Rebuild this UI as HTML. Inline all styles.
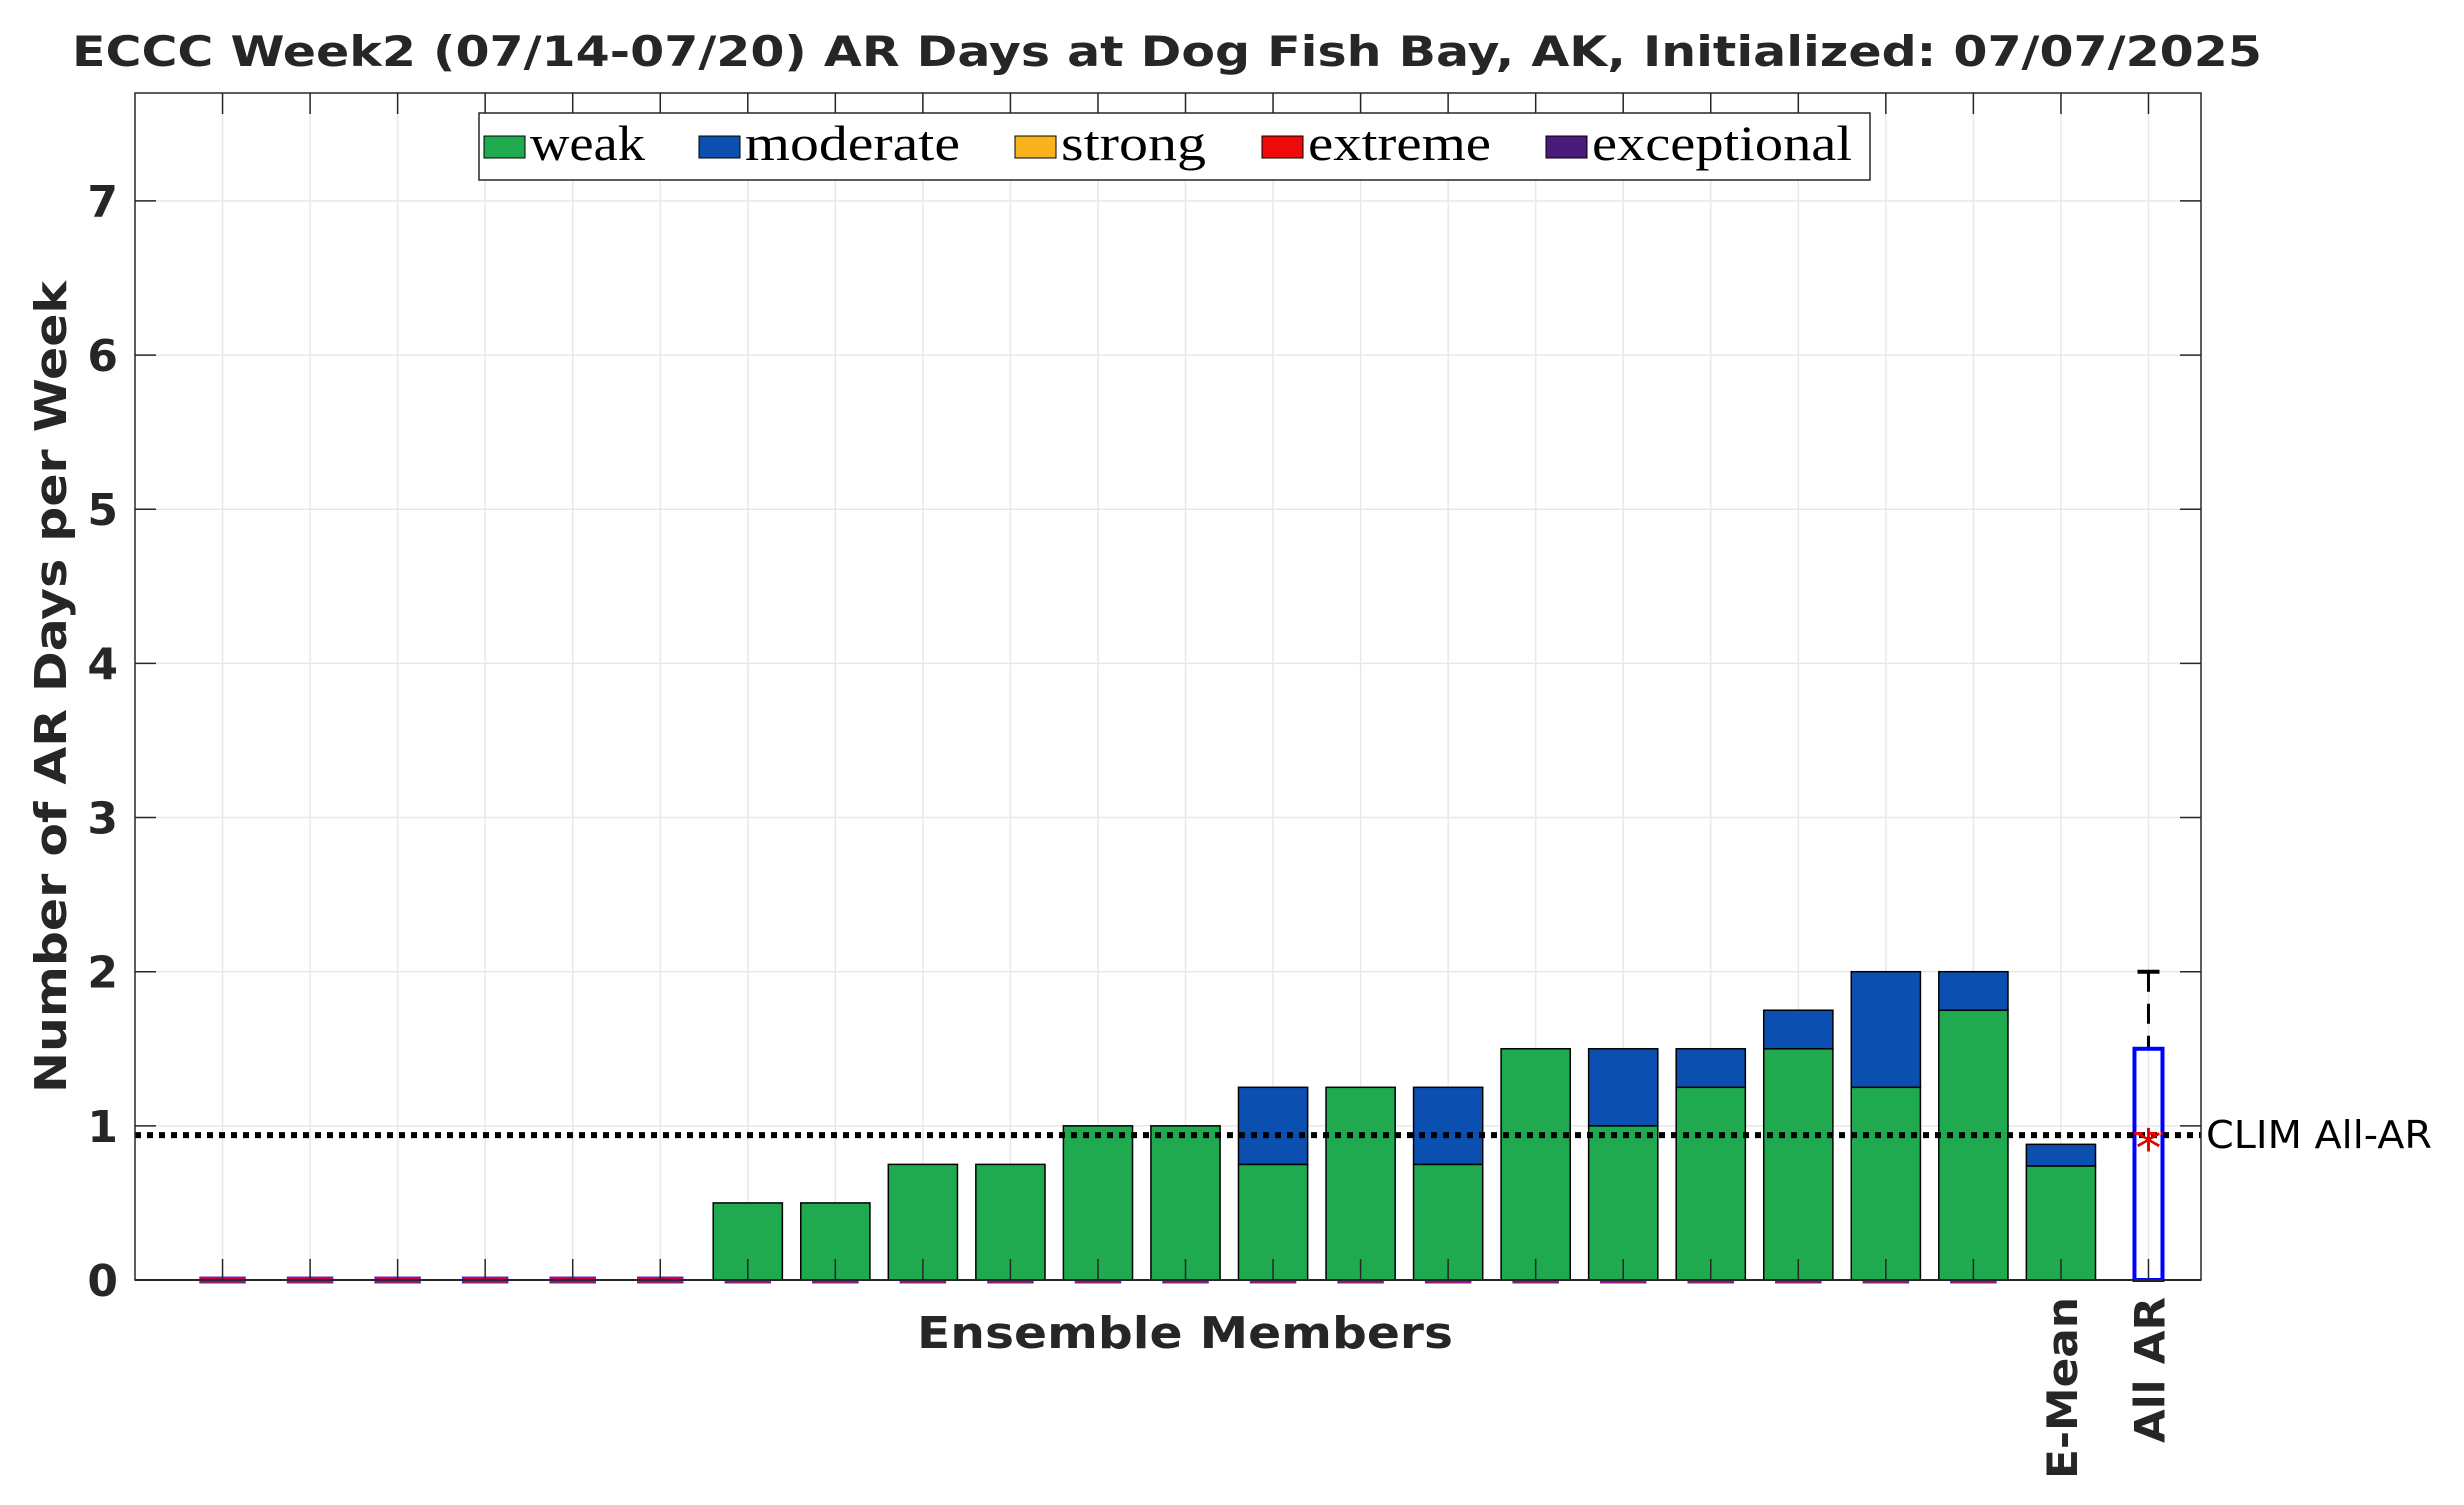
<!DOCTYPE html>
<html><head><meta charset="utf-8">
<style>
html,body{margin:0;padding:0;background:#fff;}
svg{display:block;}
.t{font-family:"DejaVu Sans","Liberation Sans",sans-serif;font-weight:bold;fill:#262626;}
.lg{font-family:"Liberation Serif",serif;fill:#000;}
</style></head>
<body>
<svg id="chart" width="2464" height="1505" viewBox="0 0 2464 1505" xmlns="http://www.w3.org/2000/svg">
<rect x="0" y="0" width="2464" height="1505" fill="#fff"/>
<text class="t" x="1167" y="66" font-size="42" text-anchor="middle" textLength="2190" lengthAdjust="spacingAndGlyphs" fill="#000">ECCC Week2 (07/14-07/20) AR Days at Dog Fish Bay, AK, Initialized: 07/07/2025</text>
<g id="grid"></g>
<g id="bars"></g>
<g id="axes"></g>
<text class="t" transform="translate(66,687) rotate(-90)" font-size="44" text-anchor="middle" textLength="812" lengthAdjust="spacingAndGlyphs">Number of AR Days per Week</text>
<text class="t" x="1185" y="1348" font-size="44" text-anchor="middle" textLength="536" lengthAdjust="spacingAndGlyphs">Ensemble Members</text>
<g id="legend"></g>
</svg>
<script>
const weak = [0,0,0,0,0,0,0.5,0.5,0.75,0.75,1,1,0.75,1.25,0.75,1.5,1,1.25,1.5,1.25,1.75,0.74];
const moderate = [0,0,0,0,0,0,0,0,0,0,0,0,0.5,0,0.5,0,0.5,0.25,0.25,0.75,0.25,0.14];
const yTicks = [0,1,2,3,4,5,6,7];
const climValue = 0.94;
const boxStats = [0, 1.5, 2, 0.95, 0.88]; // lower, upper(q3), whisker max, median, mean
const legendNames = ["weak","moderate","strong","extreme","exceptional"];
const legendColors = ["#1faa50","#0b4fb0","#f9b31c","#f00a0a","#4b1a7a"];

const NS="http://www.w3.org/2000/svg";
const L=135, R=2201, T=93, B=1280, XMAX=23.6, YMAX=7.7;
const xs=v=>L+(R-L)*v/XMAX;
const ys=v=>B-(B-T)*v/YMAX;
function mk(parent,tag,attrs){const e=document.createElementNS(NS,tag);for(const k in attrs)e.setAttribute(k,attrs[k]);parent.appendChild(e);return e;}
const grid=document.getElementById('grid'),bars=document.getElementById('bars'),axes=document.getElementById('axes'),legend=document.getElementById('legend');
// grid
for(let i=1;i<=23;i++){const g=mk(grid,'line',{x1:xs(i),x2:xs(i),y1:T,y2:B,stroke:'#e8e8e8','stroke-width':1.5});

}
yTicks.forEach(v=>{const g=mk(grid,'line',{x1:L,x2:R,y1:ys(v),y2:ys(v),stroke:'#e8e8e8','stroke-width':1.5});

});
// bars
const bw=0.79;
weak.forEach((w,i)=>{
  const x=i+1;
  if(i<21){const z=mk(bars,'rect',{x:xs(x-0.26),y:B-3,width:xs(0.52)-xs(0),height:6,fill:'#d0003a',stroke:'#5a2ad0','stroke-width':1});
  
  }
  if(w>0){const r=mk(bars,'rect',{x:xs(x-bw/2),y:ys(w),width:xs(bw)-xs(0),height:ys(0)-ys(w),fill:legendColors[0],stroke:'#000','stroke-width':1.5});
  
  }
  const m=moderate[i];
  if(m>0){const r=mk(bars,'rect',{x:xs(x-bw/2),y:ys(w+m),width:xs(bw)-xs(0),height:ys(w)-ys(w+m),fill:legendColors[1],stroke:'#000','stroke-width':1.5});
  
  }
});
// box plot All AR
const bx=23;
const wl=mk(bars,'line',{x1:xs(bx),x2:xs(bx),y1:ys(boxStats[2]),y2:ys(boxStats[1]),stroke:'#000','stroke-width':3,'stroke-dasharray':'20,12'});


const cap=mk(bars,'line',{x1:xs(bx)-11,x2:xs(bx)+11,y1:ys(boxStats[2]),y2:ys(boxStats[2]),stroke:'#000','stroke-width':4});


const bxr=mk(bars,'rect',{x:xs(bx-0.16),y:ys(boxStats[1]),width:xs(0.32)-xs(0),height:ys(boxStats[0])-ys(boxStats[1]),fill:'none',stroke:'#0000ff','stroke-width':4});


// clim line
const cl=mk(bars,'line',{x1:L,x2:R,y1:ys(climValue),y2:ys(climValue),stroke:'#000','stroke-width':6,'stroke-dasharray':'6,6'});


const md=mk(bars,'line',{x1:xs(bx-0.16),x2:xs(bx+0.16),y1:ys(boxStats[3]),y2:ys(boxStats[3]),stroke:'#f00','stroke-width':3,'stroke-dasharray':'8,5'});


const st=mk(bars,'text',{x:xs(bx),y:ys(boxStats[4])+22,'font-size':52,'text-anchor':'middle',fill:'#e00000','font-family':'DejaVu Sans, sans-serif'});
st.textContent='*';


// axes box
const fr=mk(axes,'rect',{x:L,y:T,width:R-L,height:B-T,fill:'none',stroke:'#262626','stroke-width':1.5});


mk(axes,'line',{x1:L,x2:R,y1:B,y2:B,stroke:'#262626','stroke-width':2});
for(let i=1;i<=23;i++){[[B,B-21],[T,T+21]].forEach(p=>{const t=mk(axes,'line',{x1:xs(i),x2:xs(i),y1:p[0],y2:p[1],stroke:'#262626','stroke-width':1.5});

});}
yTicks.forEach(v=>{
  [[L,L+21],[R,R-21]].forEach(p=>{const t=mk(axes,'line',{x1:p[0],x2:p[1],y1:ys(v),y2:ys(v),stroke:'#262626','stroke-width':1.5});
  
  });
  const lb=mk(axes,'text',{x:118,y:ys(v)+16,'font-size':44,'text-anchor':'end',class:'t'});
  lb.textContent=String(v);
  
  
});
[["E-Mean",22,182],["All AR",23,146]].forEach(a=>{
  const t=mk(axes,'text',{transform:`translate(${xs(a[1])+16},1297) rotate(-90)`,'font-size':42,'text-anchor':'end',class:'t',textLength:a[2],lengthAdjust:'spacingAndGlyphs'});
  t.textContent=a[0];
  
  
});
const ct=mk(axes,'text',{x:2206,y:ys(climValue)+13,'font-size':38,fill:'#000','font-family':'DejaVu Sans, sans-serif',textLength:226,lengthAdjust:'spacingAndGlyphs'});
ct.textContent='CLIM All-AR';


// legend
const lbx=mk(legend,'rect',{x:479,y:113,width:1391,height:67,fill:'#fff',stroke:'#262626','stroke-width':1.5});


const swX=[484,699,1015,1262,1546], txW=[115,215,145,183,260];
legendNames.forEach((n,i)=>{
  const g=mk(legend,'g',{});
  
  
  mk(g,'rect',{x:swX[i],y:136,width:41,height:22,fill:legendColors[i],stroke:'#000','stroke-width':1});
  const t=mk(g,'text',{x:swX[i]+46,y:160,'font-size':50,class:'lg',textLength:txW[i],lengthAdjust:'spacingAndGlyphs'});
  t.textContent=n;
});
</script>
</body></html>
